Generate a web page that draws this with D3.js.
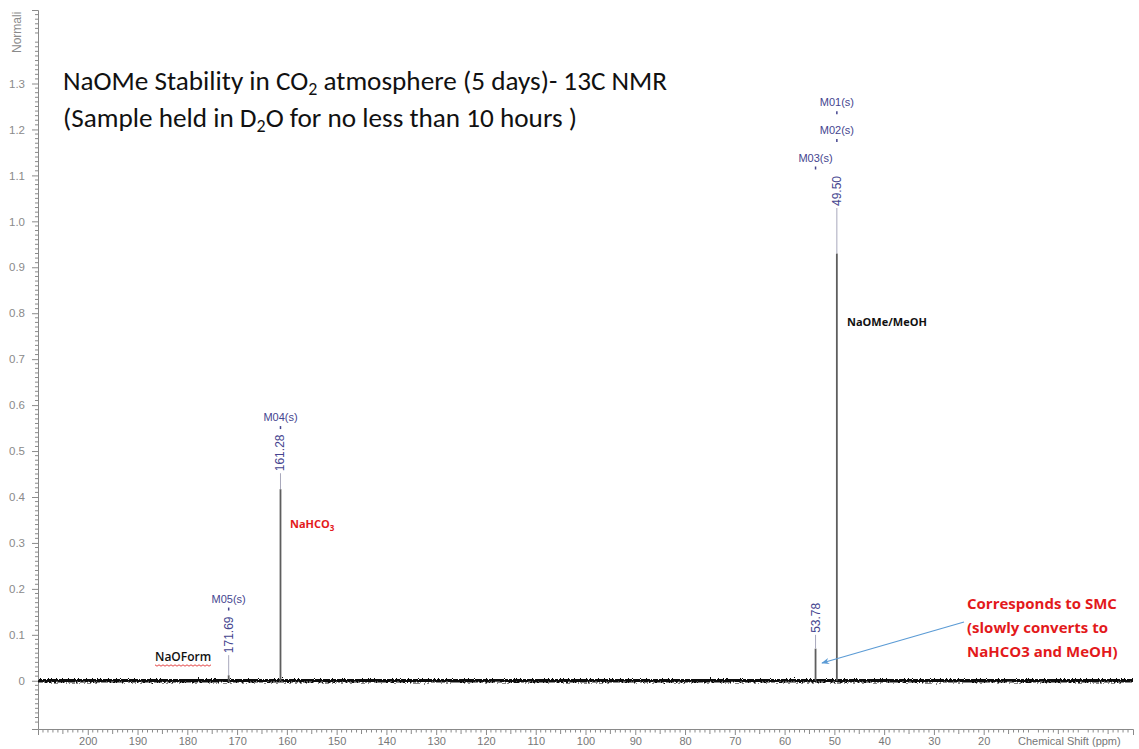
<!DOCTYPE html>
<html>
<head>
<meta charset="utf-8">
<script src="https://cdn.jsdelivr.net/npm/d3@7/dist/d3.min.js"></script>
<style>
  html, body { margin: 0; padding: 0; background: #fff; }
  svg { display: block; }
</style>
</head>
<body>
<svg id="chart" width="1139" height="749"></svg>
<script>
// 13C NMR spectrum of NaOMe after 5 days under CO2 (in D2O)
const peakShifts  = [49.50, 53.78, 161.28, 171.69];     // ppm
const peakHeights = [0.93, 0.07, 0.417, 0.012];          // normalized intensity
const peakLabels  = ["49.50", "53.78", "161.28", "171.69"];

const multipletNames  = ["M01(s)", "M02(s)", "M03(s)", "M04(s)", "M05(s)"];
const multipletShifts = [49.50, 49.50, 53.78, 161.28, 171.69];

const xTickValues = [200, 190, 180, 170, 160, 150, 140, 130, 120, 110, 100, 90, 80, 70, 60, 50, 40, 30, 20];
const yTickValues = [0, 0.1, 0.2, 0.3, 0.4, 0.5, 0.6, 0.7, 0.8, 0.9, 1.0, 1.1, 1.2, 1.3];

const svg = d3.select("#chart");

const x = d3.scaleLinear().domain([210, -10]).range([38, 1133]);
const y = d3.scaleLinear().domain([-0.105, 1.46]).range([729, 10]);

const axisColor = "#8a8a8a";
const axisFont = "'Liberation Sans', Arial, sans-serif";

// ---- noise filter for the baseline trace
const defs = svg.append("defs");
const y0 = y(0);
const f = defs.append("filter").attr("id", "grain")
  .attr("filterUnits", "userSpaceOnUse")
  .attr("x", 0).attr("y", y0 - 12).attr("width", 1139).attr("height", 24);
f.append("feTurbulence").attr("type", "fractalNoise")
  .attr("baseFrequency", "0.5 0.9").attr("numOctaves", 2).attr("seed", 7).attr("result", "n");
f.append("feDisplacementMap").attr("in", "SourceGraphic").attr("in2", "n")
  .attr("scale", 5).attr("xChannelSelector", "R").attr("yChannelSelector", "G");

// arrow marker
defs.append("marker").attr("id", "arrowHead")
  .attr("viewBox", "0 0 10 10").attr("refX", 9).attr("refY", 5)
  .attr("markerWidth", 8).attr("markerHeight", 8).attr("orient", "auto-start-reverse")
  .attr("markerUnits", "userSpaceOnUse")
  .append("path").attr("d", "M0,1 L10,5 L0,9 L3,5 Z").attr("fill", "#5b9bd5");

// ---- axes
const yAxis = d3.axisLeft(y).tickValues(yTickValues)
  .tickFormat(d => d === 0 ? "0" : d3.format(".1f")(d)).tickSize(6).tickPadding(7);
const gy = svg.append("g").attr("transform", `translate(${x.range()[0]},0)`).call(yAxis);
gy.select(".domain").attr("stroke", axisColor);
gy.selectAll(".tick line").attr("stroke", axisColor);
gy.selectAll("text").attr("fill", "#8a8a8a").attr("font-size", 11.5).attr("font-family", axisFont);

// minor y ticks every 0.01
const yMinor = d3.range(-10, 146).map(i => i / 100).filter(v => Math.abs(v * 10 - Math.round(v * 10)) > 1e-6);
svg.append("g").selectAll("line").data(yMinor).join("line")
  .attr("x1", x.range()[0] - 3).attr("x2", x.range()[0])
  .attr("y1", d => y(d)).attr("y2", d => y(d))
  .attr("stroke", axisColor).attr("stroke-width", 1);

const xAxis = d3.axisBottom(x).tickValues(xTickValues).tickSize(6).tickPadding(2);
const gx = svg.append("g").attr("transform", `translate(0,${y.range()[0]})`).call(xAxis);
gx.select(".domain").attr("stroke", axisColor);
gx.selectAll(".tick line").attr("stroke", axisColor);
gx.selectAll("text").attr("fill", "#777").attr("font-size", 11).attr("font-family", axisFont);

// minor x ticks every 1 ppm, mid ticks every 5
const xMinor = d3.range(-9, 210).filter(v => v % 10 !== 0);
svg.append("g").selectAll("line").data(xMinor).join("line")
  .attr("x1", d => x(d)).attr("x2", d => x(d))
  .attr("y1", y.range()[0]).attr("y2", d => y.range()[0] + (d % 5 === 0 ? 5 : 3.5))
  .attr("stroke", axisColor).attr("stroke-width", 1);

svg.append("text").text("Chemical Shift (ppm)")
  .attr("x", 1018).attr("y", y.range()[0] + 16)
  .attr("font-family", axisFont).attr("font-size", 11).attr("fill", "#777");

// vertical axis title (only its leading part fits above the plot)
svg.append("text").text("Normali")
  .attr("transform", `translate(21,53) rotate(-90)`)
  .attr("font-family", axisFont).attr("font-size", 12).attr("fill", "#8a8a8a");

// ---- spectrum: baseline trace plus peaks
const baseLine = d3.line().x(d => x(d)).y(() => y0);
svg.append("path")
  .datum([x.domain()[0], x.domain()[1]])
  .attr("d", baseLine)
  .attr("stroke", "#222").attr("stroke-width", 1.6).attr("fill", "none");
svg.append("path")
  .datum([x.domain()[0], x.domain()[1]])
  .attr("d", baseLine)
  .attr("stroke", "#111").attr("stroke-width", 3.4).attr("fill", "none")
  .attr("filter", "url(#grain)");

const peaks = peakShifts.map((s, i) => ({ s, h: peakHeights[i], label: peakLabels[i] }));

svg.append("g").selectAll("line").data(peaks).join("line")
  .attr("x1", d => x(d.s)).attr("x2", d => x(d.s))
  .attr("y1", y0).attr("y2", d => y(d.h))
  .attr("stroke", "#5e5e5e").attr("stroke-width", 1.8);

// peak shift labels with leader lines (rotated)
const labelColor = "#45458f";
const labelCenter = { "49.50": 1.066, "53.78": 0.137, "161.28": 0.496, "171.69": 0.1 };
peaks.forEach(p => {
  const cy = y(labelCenter[p.label]);
  const t = svg.append("text").text(p.label)
    .attr("transform", `translate(${x(p.s) + 4},${cy}) rotate(-90)`)
    .attr("text-anchor", "middle")
    .attr("font-family", axisFont).attr("font-size", 12).attr("fill", labelColor);
  const half = t.node().getComputedTextLength() / 2;
  svg.append("line")
    .attr("x1", x(p.s)).attr("x2", x(p.s))
    .attr("y1", cy + half + 2).attr("y2", y(p.h))
    .attr("stroke", "#a8a8bc").attr("stroke-width", 1);
});

// multiplet labels
const multipletLevel = { "M01(s)": 1.235, "M02(s)": 1.175, "M03(s)": 1.115, "M04(s)": 0.55, "M05(s)": 0.155 };
multipletNames.forEach((m, i) => {
  const cx = x(multipletShifts[i]);
  const ly = y(multipletLevel[m]);
  svg.append("text").text(m)
    .attr("x", cx).attr("y", ly - 7)
    .attr("text-anchor", "middle")
    .attr("font-family", axisFont).attr("font-size", 11).attr("fill", labelColor);
  svg.append("line")
    .attr("x1", cx).attr("x2", cx).attr("y1", ly - 2).attr("y2", ly + 1)
    .attr("stroke", labelColor).attr("stroke-width", 1.5);
});

// ---- title (two lines, sized to span the header width)
const titleFont = "Carlito, Calibri, 'Open Sans', 'Noto Sans', sans-serif";
function titleLine(yPos, before, sub, after) {
  const t = svg.append("text").attr("x", 63).attr("y", yPos)
    .attr("font-family", titleFont).attr("font-size", 20).attr("fill", "#111");
  t.append("tspan").text(before);
  t.append("tspan").attr("class", "sub").text(sub).attr("dy", 5);
  t.append("tspan").text(after).attr("dy", -5);
  return t;
}
const t1 = titleLine(90, "NaOMe Stability in CO", "2", " atmosphere (5 days)- 13C NMR");
const t2 = titleLine(127, "(Sample held in D", "2", "O for no less than 10 hours )");
const k = 609 / t1.node().getComputedTextLength();
const fs = 20 * k;
[t1, t2].forEach(t => {
  t.attr("font-size", fs);
  t.select(".sub").attr("font-size", fs * 0.66);
});

// ---- compound annotations
const annFont = "'Open Sans', 'Noto Sans', sans-serif";
svg.append("text").text("NaOMe/MeOH")
  .attr("x", 847).attr("y", 326)
  .attr("font-family", annFont).attr("font-weight", "bold").attr("font-size", 11).attr("fill", "#111");

const nh = svg.append("text").attr("x", 290).attr("y", 528)
  .attr("font-family", annFont).attr("font-weight", "bold").attr("font-size", 11).attr("fill", "#e3191b");
nh.append("tspan").text("NaHCO");
nh.append("tspan").text("3").attr("font-size", 8).attr("dy", 3);

const nf = svg.append("text").text("NaOForm")
  .attr("x", 155).attr("y", 661)
  .attr("font-family", annFont).attr("font-weight", 600).attr("font-size", 12).attr("fill", "#111");
const nfW = nf.node().getComputedTextLength();
// wavy spell-check underline
const wave = d3.range(0, Math.floor(nfW / 2) + 1).map(i => [155 + i * 2, 665 + (i % 2 ? 1.2 : -0.2)]);
svg.append("path").attr("d", d3.line()(wave))
  .attr("stroke", "#e03030").attr("stroke-width", 0.9).attr("fill", "none");

const smcLines = ["Corresponds to SMC", "(slowly converts to", "NaHCO3 and MeOH)"];
svg.append("g").selectAll("text").data(smcLines).join("text")
  .text(d => d)
  .attr("x", 967).attr("y", (d, i) => 609 + i * 24)
  .attr("font-family", annFont).attr("font-weight", "bold").attr("font-size", 15).attr("fill", "#e3191b");

svg.append("line")
  .attr("x1", 964).attr("y1", 622).attr("x2", 822).attr("y2", 663)
  .attr("stroke", "#5b9bd5").attr("stroke-width", 1.2)
  .attr("marker-end", "url(#arrowHead)");
</script>
</body>
</html>
